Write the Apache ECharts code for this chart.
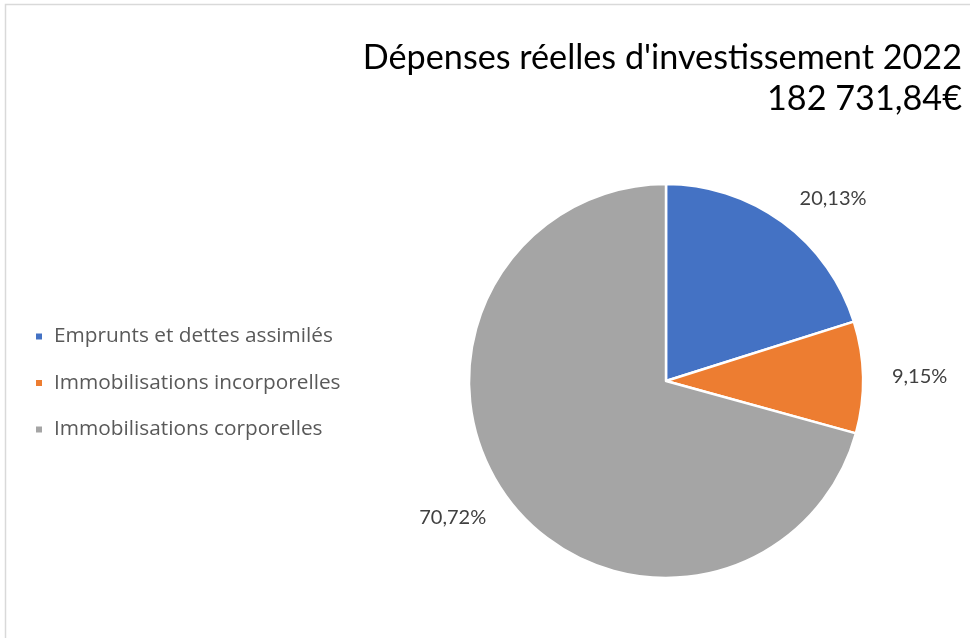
<!DOCTYPE html>
<html>
<head>
<meta charset="utf-8">
<script src="https://cdn.jsdelivr.net/npm/echarts@6/dist/echarts.min.js"></script>
<style>
  html, body { margin: 0; padding: 0; background: #fff; }
  #chart { width: 970px; height: 638px; }
</style>
</head>
<body>
<div id="chart"></div>
<script>
// data
const categories = ['Emprunts et dettes assimilés', 'Immobilisations incorporelles', 'Immobilisations corporelles'];
const shares = [20.13, 9.15, 70.72];
const colors = ['#4472C4', '#ED7D31', '#A5A5A5'];
const titleText = "Dépenses réelles d'investissement 2022\n182 731,84€";

const chart = echarts.init(document.getElementById('chart'), null, { renderer: 'canvas' });

const font = 'Lato, "Open Sans", sans-serif';

chart.setOption({
  animation: false,
  color: colors,
  title: {
    text: titleText,
    left: 'right',
    top: 37,
    padding: [0, 8, 0, 0],
    textStyle: {
      fontFamily: font,
      fontSize: 34.2,
      fontWeight: 'normal',
      color: '#000',
      lineHeight: 41
    }
  },
  legend: {
    orient: 'vertical',
    left: 29,
    top: 321,
    itemWidth: 8,
    itemHeight: 8,
    itemGap: 25.5,
    icon: 'rect',
    textStyle: { fontFamily: '"Open Sans", sans-serif', fontSize: 20.8, lineHeight: 20, color: '#595959', padding: [0, 0, 0, 6] },
    data: categories
  },
  graphic: [{
    type: 'rect',
    shape: { x: 5.5, y: 4.5, width: 1200, height: 1200 },
    style: { fill: 'none', stroke: '#d9d9d9', lineWidth: 1.5 },
    silent: true
  }],
  series: [{
    type: 'pie',
    center: [666, 381],
    radius: 197,
    startAngle: 90,
    clockwise: true,
    avoidLabelOverlap: false,
    itemStyle: { borderColor: '#fff', borderWidth: 2.5 },
    label: {
      show: true,
      position: 'outside',
      distanceToLabelLine: 0,
      fontFamily: font,
      fontSize: 20,
      color: '#404040',
      formatter: p => p.value.toFixed(2).replace('.', ',') + '%'
    },
    labelLine: { show: false, length: 29, length2: 0 },
    data: categories.map((name, i) => ({ name: name, value: shares[i] }))
  }]
});
</script>
</body>
</html>
